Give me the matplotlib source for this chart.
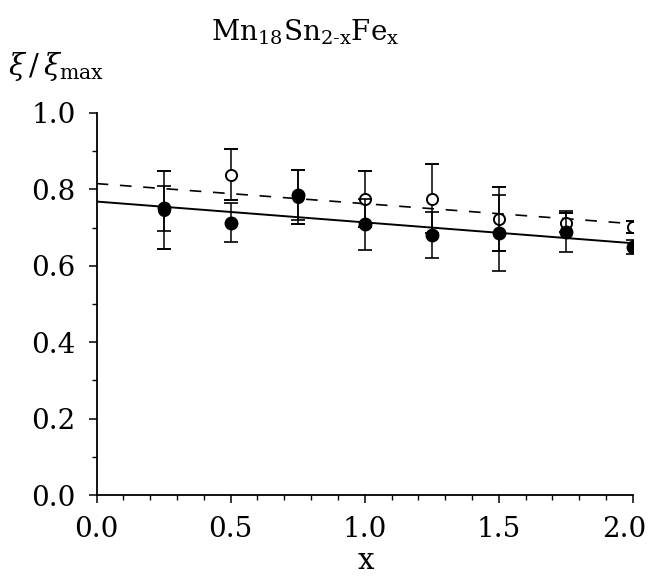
import matplotlib
matplotlib.use("Agg")
import matplotlib.pyplot as plt
from matplotlib.ticker import MultipleLocator, FormatStrFormatter, FuncFormatter

plt.rcParams['font.family'] = ['DejaVu Serif']
plt.rcParams['mathtext.fontset'] = 'dejavuserif'

# Fe content x
x = [0.25, 0.5, 0.75, 1.0, 1.25, 1.5, 1.75, 2.0]
# filled circles
y_filled = [0.750, 0.713, 0.785, 0.708, 0.681, 0.686, 0.689, 0.650]
err_filled = [0.058, 0.050, 0.065, 0.068, 0.060, 0.100, 0.053, 0.018]
# open circles
y_open = [0.745, 0.838, 0.780, 0.775, 0.776, 0.722, 0.713, 0.702]
err_open = [0.102, 0.067, 0.070, 0.074, 0.090, 0.083, 0.025, 0.015]

# fit lines (end points)
fit_x = [0.0, 2.0]
fit_solid = [0.768, 0.659]
fit_dashed = [0.815, 0.710]

fig = plt.figure(figsize=(6.53, 5.79), dpi=100)
ax = fig.add_axes([0.148, 0.145, 0.821, 0.660])

ax.plot(fit_x, fit_solid, color="black", lw=1.4, zorder=1)
ax.plot(fit_x, fit_dashed, color="black", lw=1.2, ls=(0, (7, 7)), zorder=1)

ax.errorbar(x, y_open, yerr=err_open, fmt="o", mfc="white", mec="black", mew=1.4,
            ms=8, ecolor="black", elinewidth=1.1, capsize=5, capthick=1.2, zorder=2)
ax.errorbar(x, y_filled, yerr=err_filled, fmt="o", color="black",
            ms=9, ecolor="black", elinewidth=1.1, capsize=5, capthick=1.2, zorder=3)

ax.set_xlim(0, 2.0)
ax.set_ylim(0, 1.0)
ax.xaxis.set_major_locator(MultipleLocator(0.5))
ax.xaxis.set_minor_locator(MultipleLocator(0.1))
ax.yaxis.set_major_locator(MultipleLocator(0.2))
ax.yaxis.set_minor_locator(MultipleLocator(0.1))
# last x label is drawn separately, a bit left of its tick as in the original
ax.xaxis.set_major_formatter(FuncFormatter(lambda v, p: "" if v > 1.99 else "%.1f" % v))
ax.yaxis.set_major_formatter(FormatStrFormatter("%.1f"))

for s in ["top", "right"]:
    ax.spines[s].set_visible(False)
for s in ["left", "bottom"]:
    ax.spines[s].set_linewidth(1.3)
ax.tick_params(which="major", direction="out", length=6, width=1.1, labelsize=20, pad=9)
ax.tick_params(which="minor", direction="out", length=3.5, width=1.0)

ax.annotate("2.0", xy=(2.0, 0), xycoords=ax.get_xaxis_transform(),
            xytext=(-6, -15), textcoords="offset points",
            ha="center", va="top", fontsize=20, annotation_clip=False)

fig.text(0.56, 0.031, "x", fontsize=21, ha="center", va="center")
fig.text(0.012, 0.885, r"$\xi\,/\,\xi_{\mathrm{max}}$", fontsize=21, ha="left", va="center")
fig.text(0.467, 0.945, r"$\mathrm{Mn}_{18}\mathrm{Sn}_{2\text{-}\mathrm{x}}\mathrm{Fe}_{\mathrm{x}}$",
         fontsize=20, ha="center", va="center")

fig.savefig("out.png", dpi=100)
